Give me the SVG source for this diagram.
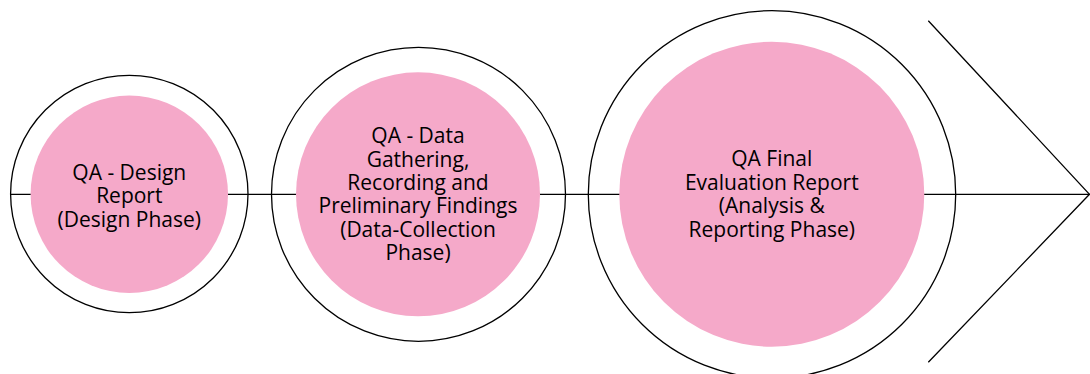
<svg xmlns="http://www.w3.org/2000/svg" width="1090" height="374" viewBox="0 0 1090 374">
<style>
.outer{fill:none;stroke:#000;stroke-width:1.3}
.inner{fill:#F5A9C9}
.conn{fill:none;stroke:#000;stroke-width:1.3}
text{font-family:"Open Sans","Noto Sans",sans-serif;font-size:21px;fill:#000;text-anchor:middle}
</style>
<rect width="1090" height="374" fill="#fff"/>
<g id="connectors">
<line class="conn" x1="10.7" y1="194.3" x2="1090" y2="194.3"/>
<polyline class="conn" points="928.3,20.7 1089.5,194.3 928.3,362.3"/>
</g>
<g id="node1">
<circle class="outer" cx="129.3" cy="194" r="118.7"/>
<circle class="inner" cx="129.3" cy="194.3" r="98.7"/>
<text x="129.3" y="180">QA - Design</text>
<text x="129.3" y="203.3">Report</text>
<text x="129.3" y="226.7">(Design Phase)</text>
</g>
<g id="node2">
<circle class="outer" cx="418.5" cy="194.3" r="147"/>
<circle class="inner" cx="418" cy="194.3" r="122"/>
<text x="418" y="143.3">QA - Data</text>
<text x="418" y="166.7">Gathering,</text>
<text x="418" y="190">Recording and</text>
<text x="418" y="213.3">Preliminary Findings</text>
<text x="418" y="236.7">(Data-Collection</text>
<text x="418" y="260">Phase)</text>
</g>
<g id="node3">
<circle class="outer" cx="772" cy="194.4" r="183.7"/>
<circle class="inner" cx="771.8" cy="194.2" r="152.5"/>
<text x="771.8" y="165.7">QA Final</text>
<text x="771.8" y="190">Evaluation Report</text>
<text x="771.8" y="213.3">(Analysis &amp;</text>
<text x="771.8" y="237.3">Reporting Phase)</text>
</g>
</svg>
